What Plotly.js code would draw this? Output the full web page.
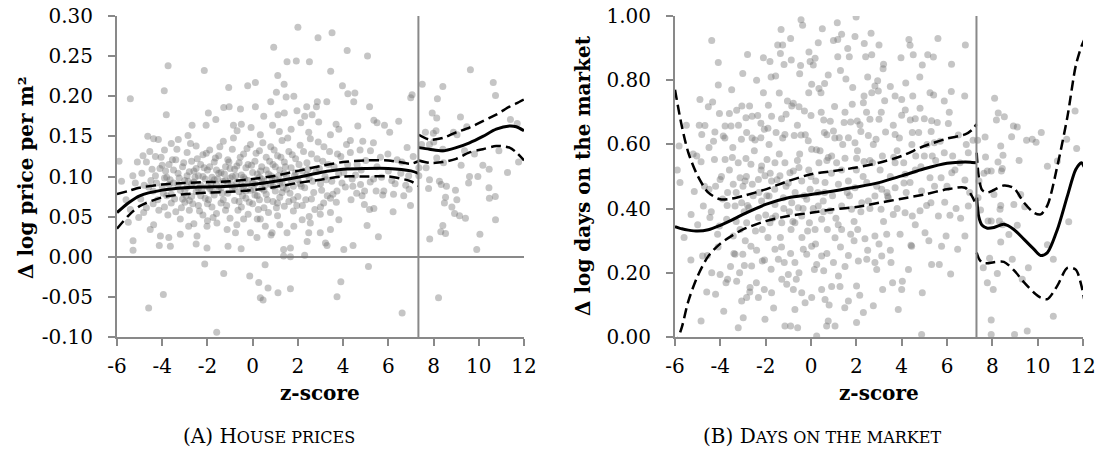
<!DOCTYPE html>
<html>
<head>
<meta charset="utf-8">
<script src="https://cdn.plot.ly/plotly-3.0.1.min.js"></script>
<style>html,body{margin:0;padding:0;background:#fff;}#chart{width:1099px;height:451px;}</style>
</head>
<body>
<div id="chart"></div>
<script>
// ---------- Panel A: house prices ----------
const housePtsPre = [
[2.0,0.286],[3.51,0.279],[2.89,0.273],[0.93,0.261],[4.18,0.257],[5.08,0.250],[1.52,0.243],[1.93,0.244],[2.51,0.243],[-3.74,0.238],[-2.14,0.232],[3.45,0.231],[1.11,0.226],[1.39,0.215],[-0.22,0.213],[0.12,0.217],[-1.06,0.211],[3.97,0.213],[-3.91,0.207],[4.21,0.203],[4.52,0.204],[7.05,0.202],[6.99,0.198],[-5.41,0.197],[1.05,0.205],[1.48,0.199],[1.82,0.200],[0.80,0.193],[2.39,0.187],[2.82,0.187],[2.86,0.193],[3.28,0.193],[4.47,0.193],[5.17,0.187],[-3.82,0.177],[-1.28,0.186],[-1.04,0.187],[-0.54,0.184],[0.12,0.187],[-1.96,0.179],[-1.63,0.171],[0.49,0.175],[1.12,0.177],[1.40,0.179],[1.96,0.182],[2.30,0.175],[2.63,0.177],[2.92,0.168],[3.69,0.165],[4.65,0.163],[5.36,0.170],[5.50,0.167],[5.83,0.164],[6.46,0.169],[6.06,0.155],[-2.68,0.164],[-2.06,0.164],[-0.85,0.164],[-0.69,0.157],[-0.50,0.165],[-0.07,0.161],[0.34,0.152],[0.88,0.164],[1.18,0.156],[1.70,0.159],[2.13,0.167],[2.48,0.155],[3.44,0.152],[3.81,0.159],[4.32,0.145],[4.87,0.144],[5.34,0.142],[-4.64,0.150],[-4.38,0.147],[-4.17,0.146],[-3.29,0.146],[-2.86,0.151],[-5.91,0.119],[-4.85,0.126],[-5.19,0.092],[-5.41,0.059],[-5.29,0.020],[-5.29,0.008],[-4.60,-0.064],[-3.95,-0.047],[-2.12,-0.009],[-1.59,-0.094],[-1.28,-0.021],[-0.13,-0.024],[0.27,-0.032],[0.55,-0.010],[0.68,-0.039],[0.34,-0.051],[0.46,-0.054],[1.12,-0.045],[1.67,-0.040],[3.90,-0.031],[3.73,-0.050],[5.12,-0.012],[6.61,-0.070],
[-4.13,0.014],[-3.64,0.013],[-2.50,0.016],[-2.02,0.011],[-1.09,0.013],[-0.51,0.010],[0.19,0.024],[0.81,0.027],[1.37,0.009],[1.67,0.011],[1.37,0.001],[1.67,0.000],[2.30,0.002],[4.03,0.009],[4.44,0.014],[3.29,0.014],[2.41,0.019],[5.56,0.025],[6.98,0.064],[6.68,0.076],[6.21,0.056],[5.06,0.039],[5.17,0.059],[5.36,0.060],[4.94,0.065],[4.84,0.076],[5.46,0.082],[5.80,0.082],[6.23,0.078],[6.77,0.089],[6.92,0.084],[6.83,0.136],[6.39,0.121],[5.98,0.128],[5.65,0.124],[5.21,0.132],[4.32,0.130],[4.62,0.115],[4.03,0.105],[4.43,0.088],[4.77,0.090],[3.73,0.082],[3.44,0.073],[3.14,0.067],[3.44,0.055],[2.99,0.053],[3.81,0.046],[3.44,0.034],[2.99,0.030],[3.22,0.017],[2.48,0.030],[2.55,0.042],[2.19,0.046],[1.82,0.038],[1.52,0.030],[1.20,0.040],[0.86,0.030],[0.56,0.038],[0.34,0.047],[-0.10,0.030],[-0.40,0.047],[-0.76,0.030],[-1.13,0.034],[-1.58,0.042],[-2.02,0.038],[-2.46,0.026],[-2.83,0.038],[-3.20,0.028],[-3.71,0.024],[-4.08,0.026],[-4.38,0.040],[-4.53,0.034],[-5.04,0.049],[-4.82,0.055],
[-4.9,0.104],[-4.7,0.118],[-4.5,0.095],[-4.4,0.082],[-4.3,0.125],[-4.2,0.071],[-4.1,0.110],[-4.0,0.088],[-3.9,0.133],[-3.9,0.062],[-3.8,0.099],[-3.7,0.115],[-3.6,0.078],[-3.6,0.141],[-3.5,0.092],[-3.4,0.056],[-3.4,0.121],[-3.3,0.104],[-3.2,0.083],[-3.2,0.047],[-3.1,0.112],[-3.0,0.095],[-3.0,0.068],[-2.9,0.130],[-2.9,0.087],[-2.8,0.058],[-2.8,0.106],[-2.7,0.119],[-2.7,0.075],[-2.6,0.093],[-2.6,0.041],[-2.5,0.138],[-2.5,0.081],[-2.4,0.101],[-2.4,0.064],[-2.3,0.115],[-2.3,0.089],[-2.2,0.052],[-2.2,0.127],[-2.1,0.097],[-2.1,0.073],[-2.0,0.108],[-2.0,0.045],[-1.9,0.085],[-1.9,0.133],[-1.8,0.062],[-1.8,0.099],[-1.7,0.118],[-1.7,0.077],[-1.6,0.090],[-1.6,0.054],[-1.5,0.126],[-1.5,0.083],[-1.4,0.105],[-1.4,0.067],[-1.3,0.144],[-1.3,0.094],[-1.2,0.058],[-1.2,0.112],[-1.1,0.079],[-1.1,0.121],[-1.0,0.098],[-1.0,0.048],[-0.9,0.086],[-0.9,0.134],[-0.8,0.070],[-0.8,0.109],[-0.7,0.093],[-0.7,0.040],[-0.6,0.117],[-0.6,0.081],[-0.5,0.102],[-0.5,0.062],[-0.4,0.128],[-0.4,0.088],[-0.3,0.073],[-0.3,0.111],[-0.2,0.095],[-0.2,0.053],[-0.1,0.140],[-0.1,0.083],[0.0,0.105],[0.0,0.066],[0.1,0.119],[0.1,0.091],[0.2,0.076],[0.2,0.047],[0.3,0.132],[0.3,0.099],[0.4,0.085],[0.4,0.112],[0.5,0.061],[0.5,0.094],[0.6,0.124],[0.6,0.078],[0.7,0.103],[0.7,0.055],[0.8,0.090],[0.8,0.137],[0.9,0.069],[0.9,0.115],[1.0,0.097],[1.0,0.082],[1.1,0.126],[1.1,0.051],[1.2,0.108],[1.2,0.074],[1.3,0.092],[1.3,0.145],[1.4,0.063],[1.4,0.118],[1.5,0.100],[1.5,0.084],[1.6,0.131],[1.6,0.069],[1.7,0.111],[1.8,0.088],[1.8,0.057],[1.9,0.122],[2.0,0.096],[2.0,0.075],[2.1,0.139],[2.2,0.107],[2.2,0.064],[2.3,0.086],[2.4,0.117],[2.5,0.098],[2.5,0.050],[2.6,0.128],[2.7,0.080],[2.8,0.106],[2.9,0.143],[3.0,0.091],[3.0,0.062],[3.1,0.119],[3.2,0.100],[3.3,0.076],[3.4,0.131],[3.5,0.094],[3.6,0.112],[3.7,0.068],[3.8,0.103],[3.9,0.125],[4.1,0.087],[4.2,0.115],[4.4,0.097],[4.6,0.079],[4.8,0.108],[5.0,0.120],[5.2,0.093],[5.5,0.112],[5.7,0.099],[6.0,0.107],[6.3,0.091],[6.6,0.118],[6.9,0.101],[7.1,0.125],
[-4.6,0.087],[-4.3,0.101],[-4.0,0.114],[-3.8,0.076],[-3.5,0.108],[-3.3,0.090],[-3.1,0.072],[-2.9,0.101],[-2.7,0.091],[-2.5,0.110],[-2.4,0.085],[-2.2,0.100],[-2.0,0.088],[-1.9,0.112],[-1.7,0.096],[-1.5,0.104],[-1.4,0.086],[-1.2,0.095],[-1.0,0.110],[-0.9,0.100],[-0.7,0.113],[-0.5,0.089],[-0.4,0.099],[-0.2,0.115],[0.0,0.092],[0.2,0.103],[0.4,0.097],[0.6,0.108],[0.8,0.101],[1.0,0.112],[1.2,0.093],[1.4,0.104],[1.7,0.095],[1.9,0.105],[2.1,0.091],[2.4,0.102],[-3.7,0.090],[-3.0,0.083],[-2.6,0.107],[-1.8,0.082],[-1.1,0.091],[-0.3,0.082],[0.5,0.083],[1.3,0.080],[-3.9,0.098],[-2.3,0.076],[-1.6,0.108],[-0.8,0.087],[0.1,0.077],[0.9,0.088],[-4.4,0.066],[-3.6,0.067],[-2.8,0.070],[-2.0,0.066],[-1.3,0.071],[-0.6,0.069],[0.3,0.071],[1.1,0.067],[1.8,0.071],[2.6,0.072],
[-5.6,0.071],[-5.3,0.101],[-5.1,0.118],[-4.95,0.072],[-4.8,0.089],[-4.7,0.061],[-4.55,0.131],[-4.45,0.109],[-4.25,0.092],[-4.15,0.058],[-4.05,0.124],[-3.95,0.079],[-3.85,0.107],[-3.75,0.052],[-3.65,0.096],[-3.55,0.121],[-3.45,0.072],[-3.35,0.134],[-3.25,0.098],[-3.15,0.061],[-3.05,0.117],[-2.95,0.076],[-2.85,0.094],[-2.75,0.141],[-2.65,0.066],[-2.55,0.099],[-2.45,0.122],[-2.35,0.057],[-2.25,0.084],[-2.15,0.111],[-2.05,0.129],[-1.95,0.071],[-1.85,0.092],[-1.75,0.049],[-1.65,0.123],[-1.55,0.097],[-1.45,0.137],[-1.35,0.079],[-1.25,0.103],[-1.15,0.064],[-1.05,0.118],[-0.95,0.090],[-0.85,0.148],[-0.75,0.101],[-0.65,0.058],[-0.55,0.124],[-0.45,0.076],[-0.35,0.097],[-0.25,0.135],[-0.15,0.068],[-0.05,0.114],[0.05,0.084],[0.15,0.129],[0.25,0.059],[0.35,0.107],[0.45,0.142],[0.55,0.089],[0.65,0.071],[0.75,0.119],[0.85,0.098],[0.95,0.133],[1.05,0.061],[1.15,0.101],[1.25,0.124],[1.35,0.086],[1.45,0.112],[1.55,0.148],[1.65,0.079],[1.75,0.127],[1.85,0.101],[1.95,0.064],[2.05,0.115],[2.15,0.088],[2.25,0.131],[2.35,0.071],[2.45,0.109],[2.55,0.147],[2.65,0.094],[2.75,0.059],[2.85,0.122],[2.95,0.110],[3.05,0.083],[3.15,0.137],[3.25,0.096],[3.35,0.115],[3.55,0.078],[3.75,0.128],[3.95,0.092],[4.15,0.140],[4.35,0.071],[4.55,0.102],[4.75,0.133],[4.95,0.082],[5.35,0.097],[5.75,0.077],[6.15,0.095],[6.55,0.104],[-5.8,0.094],[-5.5,0.043]
];
const housePtsPost = [
[9.63,0.233],[7.50,0.215],[8.41,0.212],[10.64,0.217],[10.74,0.201],[8.17,0.197],[7.94,0.179],[8.14,0.173],[9.19,0.174],[9.47,0.162],[11.40,0.171],[11.70,0.166],[7.64,0.155],[8.11,0.157],[7.99,0.154],[8.88,0.155],[9.04,0.152],[7.47,0.140],[7.82,0.140],[8.01,0.143],[8.41,0.134],[9.37,0.132],[10.89,0.132],[8.14,0.123],[8.44,0.117],[9.22,0.114],[9.81,0.128],[11.76,0.118],[7.35,0.111],[7.67,0.111],[10.18,0.114],[10.46,0.109],[11.27,0.105],[7.35,0.101],[7.82,0.096],[8.26,0.094],[8.34,0.090],[8.57,0.088],[9.59,0.100],[9.96,0.100],[9.55,0.092],[7.78,0.085],[8.97,0.083],[10.45,0.086],[8.53,0.074],[9.03,0.071],[10.47,0.073],[10.73,0.075],[8.48,0.067],[8.81,0.062],[8.93,0.054],[9.15,0.051],[9.41,0.048],[10.74,0.046],[8.41,0.039],[8.32,0.031],[8.53,0.029],[10.05,0.028],[7.83,0.022],[9.91,0.009],[8.22,-0.051]
];
const houseFitZ  = [-6,-5.5,-5,-4,-3,-2,-1,0,1,2,3,4,5,6,7,7.33,null,7.35,7.82,8.41,9.0,9.59,10.18,10.77,11.36,11.66,12.0];
const houseFit   = [0.055,0.067,0.076,0.083,0.086,0.087,0.088,0.090,0.094,0.099,0.105,0.109,0.110,0.110,0.107,0.104,null,0.136,0.134,0.132,0.136,0.142,0.150,0.159,0.163,0.162,0.157];
const houseUpper = [0.078,0.082,0.086,0.090,0.092,0.093,0.094,0.097,0.101,0.107,0.113,0.118,0.120,0.120,0.116,0.119,null,0.152,0.146,0.148,0.155,0.161,0.169,0.177,0.187,0.191,0.196];
const houseLower = [0.035,0.051,0.063,0.074,0.078,0.080,0.081,0.083,0.087,0.092,0.096,0.100,0.100,0.100,0.094,0.088,null,0.120,0.117,0.118,0.122,0.130,0.134,0.138,0.136,0.130,0.120];
const houseCutoff = 7.33;

// ---------- Panel B: days on the market ----------
const daysPtsPre = [
[-0.44,0.988],[-0.37,0.971],[1.16,0.979],[1.99,0.997],[-1.32,0.958],[-4.38,0.924],[0.99,0.924],[1.35,0.943],[1.18,0.927],[1.94,0.936],[2.65,0.946],[4.32,0.927],[4.37,0.909],[6.81,0.910],[0.32,0.917],[-1.47,0.910],[-1.25,0.910],[1.62,0.899],[2.35,0.914],[-0.09,0.888],[-1.35,0.883],[-2.10,0.870],[-1.81,0.858],[-4.09,0.855],[-1.19,0.849],[-0.87,0.863],[-0.46,0.846],[-0.04,0.858],[0.18,0.868],[0.10,0.847],[1.18,0.873],[1.69,0.873],[2.41,0.873],[2.68,0.879],[3.97,0.870],[4.51,0.879],[5.15,0.879],[5.40,0.872],[4.91,0.847],[3.18,0.836],[-3.01,0.821],[-1.76,0.810],[-1.56,0.813],[0.76,0.816],[1.54,0.804],[2.94,0.798],[4.18,0.791],[-4.09,0.785],[0.03,0.787],[0.35,0.774],[1.84,0.777],[2.82,0.782],[-2.10,0.761],[-0.10,0.761],[0.44,0.761],[2.68,0.761],[2.97,0.766],[3.71,0.751],[4.49,0.751],[5.25,0.761],[5.41,0.754],[6.19,0.765],[6.78,0.751],[2.34,0.751],[-4.34,0.732],[-4.53,0.717],[-3.28,0.706],[-2.71,0.720],[-1.88,0.722],[-1.04,0.735],[-0.78,0.728],[-0.53,0.717],[-0.29,0.704],[1.04,0.718],[1.82,0.725],[2.31,0.730],[3.25,0.736],[4.16,0.707],[4.81,0.713],[5.88,0.735],[-4.04,0.696],[-3.60,0.696],[-2.87,0.683],[-2.60,0.688],[-1.74,0.688],[-1.10,0.694],[0.56,0.676],[0.85,0.672],[1.46,0.668],[2.04,0.673],[2.16,0.661],[2.60,0.678],[3.00,0.678],[3.63,0.660],[4.00,0.691],[4.38,0.676],[5.32,0.674],[5.57,0.668],[6.06,0.665],[-4.93,0.660],[-4.68,0.659],[-3.79,0.657],[-3.53,0.657],[-2.21,0.666],[-2.06,0.647],[-2.84,0.637],[-4.82,0.631],[-4.24,0.639],[-3.87,0.626],[-3.07,0.616],[-2.47,0.614],[-2.21,0.621],[-1.54,0.637],[-1.15,0.631],[-0.74,0.628],[-0.44,0.629],[-0.12,0.611],[0.59,0.637],[0.99,0.642],[1.25,0.621],[1.65,0.621],[1.94,0.605],[2.53,0.628],[2.87,0.616],[3.29,0.639],[3.71,0.631],[4.47,0.637],[4.75,0.637],[5.12,0.600],[5.44,0.605],[6.50,0.629],[7.15,0.613],
[-5.82,0.595],[-5.04,0.564],[-4.85,0.546],[-4.50,0.590],[-4.26,0.553],[-3.79,0.553],[-3.47,0.559],[-3.21,0.543],[-2.87,0.556],[-2.65,0.538],[-2.18,0.533],[-1.94,0.553],[-1.59,0.543],[-1.15,0.543],[-0.78,0.517],[-0.53,0.528],[0.03,0.585],[0.24,0.583],[0.35,0.543],[0.76,0.559],[0.91,0.564],[1.13,0.543],[1.50,0.557],[2.01,0.557],[2.34,0.547],[2.71,0.543],[3.15,0.564],[3.71,0.543],[4.09,0.543],[4.62,0.564],[5.00,0.564],[5.35,0.564],[5.88,0.574],[6.25,0.564],[6.57,0.543],[6.94,0.574],
[-5.78,0.481],[-5.29,0.382],[-5.15,0.453],[-4.75,0.408],[-4.50,0.460],[-4.21,0.470],[-4.01,0.491],[-3.68,0.450],[-3.43,0.476],[-3.13,0.496],[-2.91,0.486],[-2.59,0.476],[-2.32,0.491],[-2.03,0.502],[-1.74,0.486],[-1.37,0.502],[-0.93,0.512],[-0.41,0.486],[-0.04,0.460],[0.21,0.486],[0.62,0.481],[1.21,0.476],[1.65,0.486],[1.94,0.465],[2.46,0.481],[2.82,0.439],[3.12,0.460],[3.38,0.439],[3.71,0.465],[4.15,0.507],[4.37,0.481],[4.88,0.455],[5.25,0.496],[5.74,0.496],[6.21,0.512],[6.79,0.489],
[-3.35,0.408],[-3.06,0.418],[-2.74,0.403],[-2.18,0.424],[-1.85,0.439],[-1.59,0.413],[-1.22,0.434],[-0.85,0.418],[-0.56,0.403],[-0.19,0.429],[0.32,0.408],[0.54,0.424],[0.84,0.393],[1.35,0.408],[1.79,0.398],[2.24,0.418],[2.53,0.424],[3.09,0.398],[3.41,0.434],[3.63,0.382],[4.15,0.387],[4.47,0.377],[4.81,0.393],[5.29,0.418],[5.62,0.377],[6.13,0.379],[6.94,0.408],
[-4.46,0.372],[-4.12,0.320],[-4.04,0.346],[-3.72,0.367],[-3.43,0.315],[-3.13,0.335],[-2.84,0.356],[-2.65,0.283],[-2.32,0.372],[-2.15,0.335],[-1.81,0.356],[-1.56,0.377],[-1.29,0.356],[-0.88,0.335],[-0.71,0.356],[-0.41,0.377],[-0.07,0.356],[0.18,0.335],[0.47,0.367],[0.72,0.335],[1.06,0.309],[1.35,0.335],[1.75,0.320],[2.06,0.335],[2.38,0.306],[2.82,0.315],[3.34,0.320],[3.93,0.320],[4.44,0.283],[5.03,0.325],[5.76,0.283],[5.96,0.315],[6.47,0.273],[6.79,0.315],
[-4.78,0.252],[-4.57,0.254],[-4.38,0.200],[-4.01,0.195],[-3.68,0.180],[-3.35,0.258],[-3.01,0.258],[-2.94,0.223],[-2.62,0.221],[-2.41,0.169],[-2.15,0.237],[-1.76,0.211],[-1.59,0.273],[-1.44,0.242],[-1.18,0.232],[-1.00,0.195],[-0.71,0.232],[-0.53,0.200],[-0.34,0.273],[-0.19,0.258],[0.03,0.283],[0.25,0.226],[0.47,0.252],[0.56,0.206],[0.99,0.232],[1.21,0.190],[1.65,0.254],[2.09,0.237],[2.46,0.242],[2.82,0.232],[3.12,0.252],[3.53,0.232],[4.03,0.174],[4.41,0.286],[5.32,0.226],[5.66,0.226],[6.16,0.196],
[-4.21,0.133],[-3.75,0.169],[-3.28,0.174],[-3.06,0.112],[-2.84,0.123],[-2.69,0.154],[-2.32,0.123],[-2.06,0.148],[-1.74,0.138],[-1.29,0.180],[-1.07,0.164],[-0.78,0.148],[-0.71,0.086],[-0.41,0.138],[-0.26,0.107],[0.03,0.123],[0.47,0.148],[0.62,0.117],[0.91,0.157],[1.28,0.157],[1.49,0.091],[1.65,0.112],[2.01,0.159],[2.31,0.076],[2.75,0.097],[3.16,0.148],[3.60,0.169],[3.85,0.086],[4.00,0.148],[4.91,0.138],
[-4.85,0.050],[-3.21,0.029],[-2.99,0.060],[-2.03,0.055],[-1.15,0.034],[-0.59,0.029],[-0.90,0.034],[0.69,0.034],[1.06,0.034],[0.76,0.050],[2.01,0.045],[0.25,0.003],[4.88,0.008],
[-3.9,0.43],[-3.6,0.52],[-3.3,0.36],[-3.0,0.47],[-2.8,0.41],[-2.5,0.58],[-2.3,0.45],[-2.0,0.38],[-1.8,0.51],[-1.6,0.46],[-1.4,0.57],[-1.2,0.40],[-1.0,0.48],[-0.8,0.36],[-0.6,0.55],[-0.3,0.44],[-0.1,0.52],[0.1,0.40],[0.4,0.58],[0.6,0.45],[0.9,0.51],[1.1,0.37],[1.4,0.60],[1.7,0.44],[2.0,0.52],[2.2,0.39],[2.6,0.55],[2.9,0.47],[3.2,0.36],[3.5,0.50],[3.8,0.58],[4.2,0.45],[4.6,0.52],[5.1,0.41],[5.5,0.55],[6.0,0.47],[6.4,0.40],[-3.4,0.26],[-2.9,0.30],[-2.4,0.27],[-1.9,0.31],[-1.3,0.28],[-0.9,0.26],[-0.4,0.31],[0.2,0.29],[0.7,0.26],[1.3,0.28],[1.9,0.30],[2.5,0.27],[3.0,0.29],[-3.8,0.62],[-3.2,0.66],[-2.6,0.62],[-1.9,0.65],[-1.3,0.68],[-0.6,0.66],[0.0,0.69],[0.7,0.63],[1.5,0.70],[2.2,0.64],[3.1,0.70],[3.9,0.62],[4.6,0.68],[5.3,0.64],[-3.5,0.77],[-2.4,0.80],[-1.4,0.76],[-0.5,0.82],[0.6,0.79],[1.3,0.83],[2.5,0.81],[3.5,0.78],[4.8,0.81],[6.2,0.85],[-2.8,0.88],[-0.9,0.93],[0.5,0.96],[3.0,0.91],[5.6,0.93],
[-5.9,0.52],[-5.6,0.31],[-5.5,0.66],[-5.3,0.24],[-5.2,0.57],[-5.0,0.35],[-4.9,0.74],[-4.7,0.47],[-4.6,0.14],[-4.4,0.39],[-4.3,0.61],[-4.1,0.28],[-3.95,0.50],[-3.85,0.08],[-3.7,0.41],[-3.55,0.22],[-3.45,0.59],[-3.3,0.45],[-3.15,0.20],[-3.05,0.72],[-2.95,0.39],[-2.85,0.50],[-2.7,0.14],[-2.55,0.44],[-2.45,0.33],[-2.35,0.69],[-2.2,0.52],[-2.05,0.24],[-1.95,0.44],[-1.85,0.60],[-1.7,0.37],[-1.65,0.09],[-1.5,0.49],[-1.35,0.31],[-1.25,0.62],[-1.1,0.47],[-0.95,0.39],[-0.85,0.72],[-0.7,0.45],[-0.65,0.18],[-0.5,0.57],[-0.35,0.40],[-0.25,0.63],[-0.15,0.33],[0.0,0.50],[0.15,0.21],[0.3,0.45],[0.45,0.70],[0.55,0.39],[0.7,0.55],[0.8,0.10],[0.95,0.44],[1.05,0.62],[1.2,0.35],[1.35,0.52],[1.5,0.22],[1.6,0.45],[1.75,0.67],[1.9,0.36],[2.05,0.58],[2.15,0.13],[2.3,0.50],[2.45,0.70],[2.6,0.40],[2.75,0.60],[2.9,0.21],[3.05,0.52],[3.2,0.85],[3.35,0.45],[3.5,0.27],[3.65,0.56],[3.8,0.40],[4.0,0.74],[4.1,0.48],[4.3,0.21],[4.45,0.60],[4.6,0.35],[4.85,0.53],[5.0,0.68],[5.2,0.30],[5.45,0.47],[5.7,0.61],[5.9,0.42],[6.1,0.70],[6.35,0.52],[6.6,0.37],[6.85,0.60],[7.0,0.45]
];
const daysPtsPost = [
[8.10,0.744],[8.26,0.698],[8.53,0.686],[8.18,0.676],[8.93,0.657],[9.10,0.654],[7.35,0.613],[7.68,0.623],[8.85,0.624],[9.51,0.613],[9.76,0.616],[9.93,0.607],[10.16,0.637],[11.65,0.704],[11.72,0.587],[11.28,0.616],[8.37,0.595],[7.70,0.561],[8.47,0.566],[8.25,0.545],[9.18,0.550],[10.87,0.548],[10.43,0.532],[8.44,0.525],[7.78,0.517],[7.95,0.517],[8.40,0.517],[7.63,0.510],[7.41,0.486],[7.37,0.434],[8.07,0.444],[9.25,0.444],[8.37,0.410],[8.95,0.413],[9.43,0.406],[7.48,0.396],[8.34,0.398],[7.81,0.361],[7.95,0.361],[8.31,0.361],[8.45,0.350],[9.10,0.348],[11.37,0.359],[8.73,0.319],[8.37,0.296],[10.43,0.287],[10.69,0.242],[7.88,0.245],[7.60,0.216],[9.59,0.216],[8.22,0.198],[9.32,0.180],[7.78,0.169],[8.04,0.148],[10.69,0.065],[7.95,0.053],[7.95,0.008],[8.98,0.008],[9.54,0.019],[8.88,0.242]
];
const daysFitZ  = [-6,-5.7,-5.41,-5,-4.53,-4,-3.5,-3,-2,-1,0,1,2,3,4,5,6,6.8,7.1,7.3,null,7.31,7.40,7.55,7.78,8.07,8.51,8.95,9.40,9.84,10.13,10.43,10.87,11.31,11.68,11.93,12.05];
const daysFit   = [0.344,0.337,0.333,0.330,0.334,0.348,0.364,0.382,0.413,0.434,0.444,0.455,0.467,0.481,0.502,0.524,0.541,0.545,0.544,0.543,null,0.434,0.375,0.348,0.339,0.341,0.351,0.335,0.304,0.273,0.254,0.263,0.335,0.439,0.522,0.543,0.530];
const daysUpper = [0.77,0.657,0.574,0.502,0.450,0.429,0.431,0.439,0.460,0.486,0.507,0.517,0.528,0.543,0.564,0.595,0.618,0.631,0.645,0.663,null,0.574,0.50,0.458,0.450,0.458,0.472,0.464,0.418,0.387,0.382,0.410,0.533,0.685,0.845,0.905,0.925];
const daysLower = [-0.03,0.03,0.112,0.190,0.252,0.291,0.315,0.335,0.361,0.377,0.387,0.398,0.405,0.418,0.431,0.444,0.460,0.465,0.439,0.408,null,0.263,0.245,0.232,0.230,0.233,0.234,0.208,0.170,0.138,0.123,0.118,0.160,0.215,0.210,0.160,0.118];
const daysCutoff = 7.30;

const xTicks = [-6,-4,-2,0,2,4,6,8,10,12];
const houseTicks = [-0.10,-0.05,0.00,0.05,0.10,0.15,0.20,0.25,0.30];
const daysTicks = [0.00,0.20,0.40,0.60,0.80,1.00];

// ---------- styles ----------
const W = 1099, H = 451;
const GREY = '#898989';
const FONT = 'DejaVu Serif';
const ptMarker = {size: 7, color: 'rgba(110,110,110,0.40)', line: {width: 0}};
const solid = {color: '#000', width: 3, shape: 'spline', smoothing: 0.8};
const dashed = {color: '#000', width: 2.5, dash: '10px,5px', shape: 'spline', smoothing: 0.8};

const allHouse = housePtsPre.concat(housePtsPost);
const allDays = daysPtsPre.concat(daysPtsPost);

const traces = [
  {x: allHouse.map(p => p[0]), y: allHouse.map(p => p[1]), type: 'scatter', mode: 'markers', marker: ptMarker, xaxis: 'x', yaxis: 'y', hoverinfo: 'skip'},
  {x: houseFitZ, y: houseUpper, type: 'scatter', mode: 'lines', line: dashed, xaxis: 'x', yaxis: 'y'},
  {x: houseFitZ, y: houseLower, type: 'scatter', mode: 'lines', line: dashed, xaxis: 'x', yaxis: 'y'},
  {x: houseFitZ, y: houseFit, type: 'scatter', mode: 'lines', line: solid, xaxis: 'x', yaxis: 'y'},
  {x: allDays.map(p => p[0]), y: allDays.map(p => p[1]), type: 'scatter', mode: 'markers', marker: ptMarker, xaxis: 'x2', yaxis: 'y2', hoverinfo: 'skip'},
  {x: daysFitZ, y: daysUpper, type: 'scatter', mode: 'lines', line: dashed, xaxis: 'x2', yaxis: 'y2'},
  {x: daysFitZ, y: daysLower, type: 'scatter', mode: 'lines', line: dashed, xaxis: 'x2', yaxis: 'y2'},
  {x: daysFitZ, y: daysFit, type: 'scatter', mode: 'lines', line: solid, xaxis: 'x2', yaxis: 'y2'}
];

const tickFont = {family: FONT, size: 20, color: '#000'};
function xAxis(d0, d1, anchor) {
  return {domain: [d0 / W, d1 / W], anchor: anchor, range: [-6, 12], tickvals: xTicks, ticktext: xTicks.map(String),
    showgrid: false, zeroline: false, showline: true, linecolor: GREY, linewidth: 2,
    ticks: 'outside', ticklen: 7, tickwidth: 2, tickcolor: GREY, tickfont: tickFont, ticklabelstandoff: 3};
}
function yAxis(range, vals, anchor, zero) {
  return {domain: [1 - 337 / H, 1 - 16 / H], anchor: anchor, range: range, tickvals: vals, ticktext: vals.map(v => v.toFixed(2)),
    showgrid: false, zeroline: zero, zerolinecolor: GREY, zerolinewidth: 2, showline: true, linecolor: GREY, linewidth: 2,
    ticks: 'outside', ticklen: 7, tickwidth: 2, tickcolor: GREY, tickfont: tickFont, ticklabelstandoff: 11};
}

const titleFont = {family: FONT, size: 20, color: '#000'};
const capFont = {family: FONT, size: 20, color: '#000'};
function ann(text, px, py, font, angle) {
  return {text: text, x: px / W, y: 1 - py / H, xref: 'paper', yref: 'paper', xanchor: 'center', yanchor: 'middle',
    showarrow: false, font: font, textangle: angle || 0};
}

const layout = {
  width: W, height: H, margin: {l: 0, r: 0, t: 0, b: 0}, paper_bgcolor: '#fff', plot_bgcolor: '#fff', showlegend: false,
  xaxis: xAxis(117, 524, 'y'),
  yaxis: yAxis([-0.10, 0.30], houseTicks, 'x', true),
  xaxis2: xAxis(675, 1083, 'y2'),
  yaxis2: yAxis([0, 1], daysTicks, 'x2', false),
  shapes: [
    {type: 'line', xref: 'x', yref: 'y domain', x0: houseCutoff, x1: houseCutoff, y0: 0, y1: 1, line: {color: GREY, width: 2}},
    {type: 'line', xref: 'x2', yref: 'y2 domain', x0: daysCutoff, x1: daysCutoff, y0: 0, y1: 1, line: {color: GREY, width: 2}}
  ],
  annotations: [
    ann('<b>Δ log price per m²</b>', 26, 178, titleFont, -90),
    ann('<b>Δ log days on the market</b>', 583, 176, titleFont, -90),
    ann('<b>z-score</b>', 320, 393, titleFont),
    ann('<b>z-score</b>', 879, 393, titleFont),
    ann('(A) H' + '<span style="font-size:16px">OUSE PRICES</span>', 269, 436, capFont),
    ann('(B) D' + '<span style="font-size:16px">AYS ON THE MARKET</span>', 822, 436, capFont)
  ]
};

Plotly.newPlot('chart', traces, layout, {staticPlot: true, displayModeBar: false});
</script>
</body>
</html>
